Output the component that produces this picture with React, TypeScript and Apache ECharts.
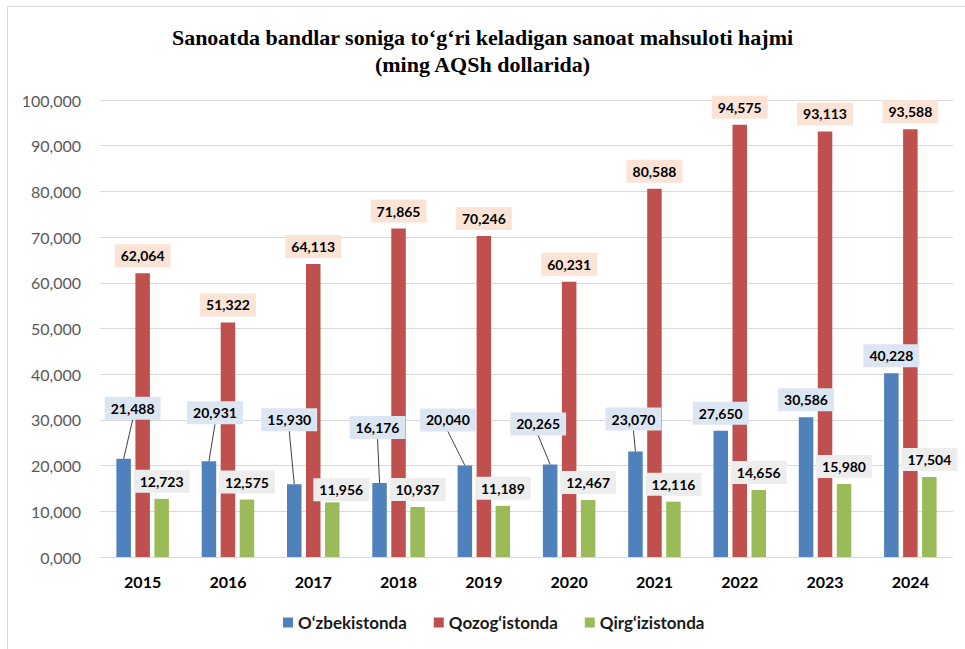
import React, { useEffect, useRef } from "react";
import * as echarts from "echarts";

const years = ["2015", "2016", "2017", "2018", "2019", "2020", "2021", "2022", "2023", "2024"];
const seriesNames = ["O‘zbekistonda", "Qozog‘istonda", "Qirg‘izistonda"];
const uzbekistan = [21488, 20931, 15930, 16176, 20040, 20265, 23070, 27650, 30586, 40228];
const kazakhstan = [62064, 51322, 64113, 71865, 70246, 60231, 80588, 94575, 93113, 93588];
const kyrgyzstan = [12723, 12575, 11956, 10937, 11189, 12467, 12116, 14656, 15980, 17504];

// label layout shifts (layout only, not data)
const blueShift = [[9, -33], [6, -31], [-5, -47], [-2, -38], [-17, -28], [-12, -23], [-2, -15], [0, 0], [0, 0], [0, 0]];
const greenShift = [[0, 0], [0, 0], [9, 5], [0, 0], [0, 0], [0, 0], [0, 0], [0, 0], [0, 0], [0, 0]];

const colors = ["#4F81BD", "#C0504D", "#9BBB59"];
const labelBgs = ["#DCE6F2", "#FBE3D6", "#EDEDED"];
const BAR_W = 14.5;
const BAR_GAP = 4.5;
const LABEL_DIST = 6;

const fmt = (v: number) => (v === 0 ? "0,000" : v.toLocaleString("en-US"));

export default function App() {
  const ref = useRef<HTMLDivElement>(null);
  useEffect(() => {
    if (!ref.current) return;
    const chart = echarts.init(ref.current, undefined, { renderer: "svg" });
    const baseLabel = (i: number) => ({
      show: true,
      position: "top",
      distance: LABEL_DIST,
      formatter: (p: any) => fmt(p.value),
      fontFamily: "Lato",
      fontWeight: "bold",
      fontSize: 14,
      lineHeight: 15,
      color: "#000",
      backgroundColor: labelBgs[i],
      padding: [4, 6],
    });
    chart.setOption({
      animation: false,
      backgroundColor: "#fff",
      title: {
        text: "Sanoatda bandlar soniga to‘g‘ri keladigan sanoat mahsuloti hajmi\n(ming AQSh dollarida)",
        left: "center",
        top: 19,
        textStyle: {
          fontFamily: "Liberation Serif",
          fontWeight: "bold",
          fontSize: 22,
          lineHeight: 27,
          color: "#000",
        },
      },
      graphic: [
        {
          type: "rect",
          shape: { x: 7.5, y: 6.5, width: 1000, height: 1000 },
          style: { fill: "none", stroke: "#D9D9D9", lineWidth: 1 },
          silent: true,
          z: -10,
        },
      ],
      legend: {
        data: seriesNames,
        left: 283,
        top: 614,
        padding: 0,
        itemWidth: 10,
        itemHeight: 10,
        itemGap: 27,
        icon: "rect",
        textStyle: { fontFamily: "Lato", fontWeight: "bold", fontSize: 17, color: "#1a1a1a" },
      },
      grid: { left: 100, right: 12, top: 100, bottom: 92, containLabel: false },
      xAxis: {
        type: "category",
        data: years,
        axisLine: { show: true, lineStyle: { color: "#D9D9D9", width: 1 } },
        axisTick: { show: false },
        axisLabel: { fontFamily: "Lato", fontWeight: "bold", fontSize: 16, color: "#000", margin: 16 },
      },
      yAxis: {
        type: "value",
        min: 0,
        max: 100000,
        interval: 10000,
        axisLine: { show: false },
        axisTick: { show: false },
        splitLine: { lineStyle: { color: "#D9D9D9", width: 1 } },
        axisLabel: {
          fontFamily: "Lato",
          fontSize: 16,
          color: "#595959",
          margin: 19,
          formatter: (v: number) => fmt(v),
        },
      },
      series: [
        {
          name: seriesNames[0],
          type: "bar",
          barWidth: BAR_W,
          barGap: (BAR_GAP / BAR_W) * 100 + "%",
          itemStyle: { color: colors[0] },
          data: uzbekistan,
          label: baseLabel(0),
          labelLayout: (p: any) => ({ dx: blueShift[p.dataIndex][0], dy: blueShift[p.dataIndex][1] }),
        },
        {
          name: seriesNames[1],
          type: "bar",
          barWidth: BAR_W,
          barGap: (BAR_GAP / BAR_W) * 100 + "%",
          itemStyle: { color: colors[1] },
          data: kazakhstan,
          label: baseLabel(1),
        },
        {
          name: seriesNames[2],
          type: "bar",
          barWidth: BAR_W,
          barGap: (BAR_GAP / BAR_W) * 100 + "%",
          itemStyle: { color: colors[2] },
          data: kyrgyzstan,
          label: baseLabel(2),
          labelLayout: (p: any) => ({ dx: greenShift[p.dataIndex][0], dy: greenShift[p.dataIndex][1] }),
        },
        {
          // leader lines for the shifted O‘zbekistonda labels
          name: "leader",
          type: "custom",
          silent: true,
          z: 3,
          data: uzbekistan.map((v, i) => [i, v]),
          renderItem: (params: any, api: any) => {
            const i = params.dataIndex;
            const [dx, dy] = blueShift[i];
            if (dx === 0 && dy === 0) return null;
            const pt = api.coord([api.value(0), api.value(1)]);
            const x0 = pt[0] - (BAR_W + BAR_GAP);
            const y0 = pt[1];
            return {
              type: "line",
              shape: { x1: x0, y1: y0, x2: x0 + dx, y2: y0 - LABEL_DIST + dy },
              style: { stroke: "#404040", lineWidth: 1 },
            };
          },
        },
      ],
    });
    return () => chart.dispose();
  }, []);
  return (
    <div
      ref={ref}
      style={{ position: "fixed", left: 0, top: 0, width: 965, height: 649, background: "#fff" }}
    />
  );
}
